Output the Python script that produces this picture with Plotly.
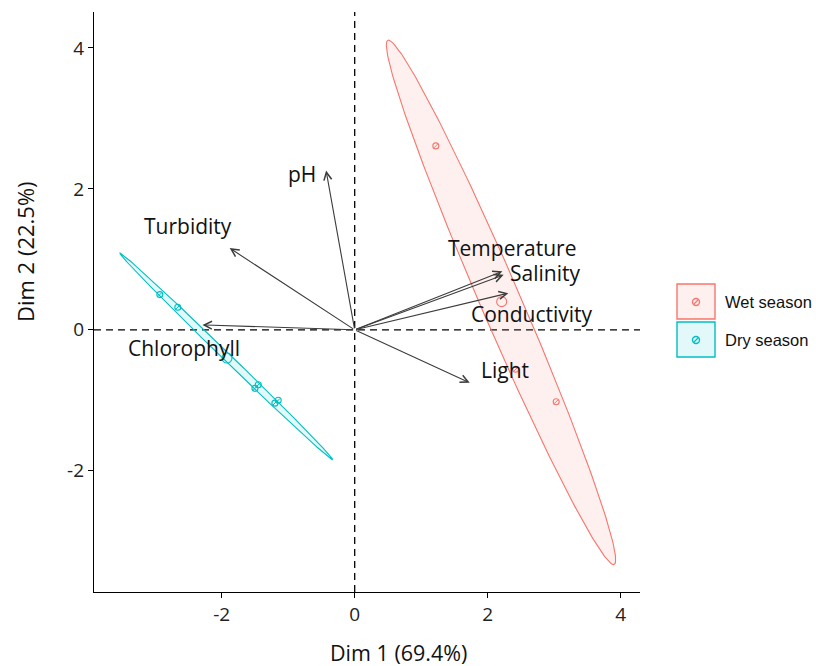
import numpy as np
import plotly.graph_objects as go

# ---- PCA biplot data -------------------------------------------------------
# Variable loadings (arrow tips) on Dim 1 / Dim 2
variables = ["pH", "Turbidity", "Chlorophyll", "Temperature", "Salinity", "Conductivity", "Light"]
var_dim1 = [-0.43, -1.88, -2.29, 2.22, 2.24, 2.31, 1.73]
var_dim2 = [2.26, 1.16, 0.07, 0.83, 0.78, 0.52, -0.75]
# where each variable name is written
label_dim1 = [-0.79, -2.50, -2.56, 2.36, 2.86, 2.66, 2.26]
label_dim2 = [2.21, 1.48, -0.26, 1.16, 0.81, 0.23, -0.57]

# Individual samples
wet_dim1 = [1.22, 2.42, 3.03]
wet_dim2 = [2.61, -0.56, -1.02]
dry_dim1 = [-2.93, -2.66, -1.50, -1.45, -1.20, -1.15]
dry_dim2 = [0.50, 0.32, -0.83, -0.78, -1.04, -1.00]

# Group mean points
wet_mean = [2.21, 0.40]
dry_mean = [-1.92, -0.40]

# Concentration ellipses: centre, half-axes and rotation (degrees)
wet_ellipse = [2.20, 0.39, 4.09, 0.30, -65.4]
dry_ellipse = [-1.93, -0.378, 2.17, 0.055, -42.5]

groups = ["Wet season", "Dry season"]
tick_values = [-2, 0, 2, 4]
tick_labels = ["-2", "0", "2", "4"]

WET = "#F8766D"
DRY = "#00BFC4"

X_RANGE = [-3.92, 4.29]
Y_RANGE = [-3.72, 4.51]
ML, MR, MT, MB = 94, 176, 12, 74
W, H = 816, 666
PW, PH = W - ML - MR, H - MT - MB


def ellipse_xy(params, n=240):
    cx, cy, a, b, ang = params
    t = np.linspace(0, 2 * np.pi, n)
    th = np.deg2rad(ang)
    x = cx + a * np.cos(t) * np.cos(th) - b * np.sin(t) * np.sin(th)
    y = cy + a * np.cos(t) * np.sin(th) + b * np.sin(t) * np.cos(th)
    return x, y


def px2paper(px, py):
    return (px - ML) / PW, (H - MB - py) / PH


fig = go.Figure()

for params, col, fill in [(wet_ellipse, WET, "rgba(248,118,109,0.11)"),
                          (dry_ellipse, DRY, "rgba(0,191,196,0.11)")]:
    ex, ey = ellipse_xy(params)
    fig.add_trace(go.Scatter(x=ex, y=ey, mode="lines", fill="toself",
                             fillcolor=fill, line=dict(color=col, width=1.1),
                             hoverinfo="skip", showlegend=False))

for xs, ys, col in [(wet_dim1, wet_dim2, WET), (dry_dim1, dry_dim2, DRY)]:
    fig.add_trace(go.Scatter(x=xs, y=ys, mode="markers", showlegend=False,
                             marker=dict(symbol="circle-open", size=6, color=col,
                                         line=dict(width=1.1, color=col))))
    fig.add_trace(go.Scatter(x=xs, y=ys, mode="markers", showlegend=False,
                             marker=dict(symbol="line-ne", size=4, color=col,
                                         line=dict(width=1, color=col))))

for m, col in [(wet_mean, WET), (dry_mean, DRY)]:
    fig.add_trace(go.Scatter(x=[m[0]], y=[m[1]], mode="markers", showlegend=False,
                             marker=dict(symbol="circle-open", size=10, color=col,
                                         line=dict(width=1.1, color=col))))

annotations = []
for name, vx, vy, lx, ly in zip(variables, var_dim1, var_dim2, label_dim1, label_dim2):
    annotations.append(dict(x=vx, y=vy, ax=0, ay=0, xref="x", yref="y",
                            axref="x", ayref="y", text="", showarrow=True,
                            arrowhead=5, arrowsize=1.4, arrowwidth=1.1,
                            arrowcolor="#3c3c3c", standoff=0))
    annotations.append(dict(x=lx, y=ly, xref="x", yref="y", text=name,
                            showarrow=False, xanchor="center", yanchor="middle",
                            font=dict(family="Open Sans", size=21, color="#111")))

# axis titles
tx, ty = px2paper(398, 652)
annotations.append(dict(x=tx, y=ty, xref="paper", yref="paper", text="Dim 1 (69.4%)",
                        showarrow=False, xanchor="center", yanchor="middle",
                        font=dict(family="Open Sans", size=21.5, color="#111")))
tx, ty = px2paper(25, 252)
annotations.append(dict(x=tx, y=ty, xref="paper", yref="paper", text="Dim 2 (22.5%)",
                        showarrow=False, xanchor="center", yanchor="middle", textangle=-90,
                        font=dict(family="Open Sans", size=22, color="#111")))

shapes = [
    dict(type="line", xref="x", yref="paper", x0=0, x1=0, y0=0, y1=1,
         line=dict(color="black", width=1.3, dash="7px,5px"), layer="below"),
    dict(type="line", xref="paper", yref="y", x0=0, x1=1, y0=0, y1=0,
         line=dict(color="black", width=1.3, dash="7px,5px"), layer="below"),
]

# legend keys
for i, (g, col, fill) in enumerate([(groups[0], WET, "rgba(248,118,109,0.11)"),
                                    (groups[1], DRY, "rgba(0,191,196,0.11)")]):
    top = 284 + i * 38
    x0, y1 = px2paper(677, top)
    x1, y0 = px2paper(715, top + 35)
    shapes.append(dict(type="rect", xref="paper", yref="paper", x0=x0, x1=x1, y0=y0, y1=y1,
                       line=dict(color=col, width=1.4), fillcolor=fill))
    cx, cy = px2paper(696, top + 18)
    shapes.append(dict(type="circle", xref="paper", yref="paper", xsizemode="pixel",
                       ysizemode="pixel", xanchor=cx, yanchor=cy, x0=-3.5, x1=3.5,
                       y0=-3.5, y1=3.5, line=dict(color=col, width=1.4)))
    shapes.append(dict(type="line", xref="paper", yref="paper", xsizemode="pixel",
                       ysizemode="pixel", xanchor=cx, yanchor=cy, x0=-2.5, x1=2.5,
                       y0=-2.5, y1=2.5, line=dict(color=col, width=1.2)))
    lx, ly = px2paper(723, top + 18)
    annotations.append(dict(x=lx, y=ly, xref="paper", yref="paper", text=g,
                            showarrow=False, xanchor="left", yanchor="middle",
                            font=dict(family="Liberation Sans", size=16.5, color="#111")))

axis_common = dict(showline=True, linecolor="black", linewidth=1.3, ticks="outside",
                   ticklen=5, tickwidth=1.2, tickcolor="black", showgrid=False,
                   zeroline=False, tickvals=tick_values, ticktext=tick_labels,
                   tickfont=dict(family="Open Sans", size=19, color="#222"))

fig.update_layout(
    width=W, height=H, margin=dict(l=ML, r=MR, t=MT, b=MB),
    paper_bgcolor="white", plot_bgcolor="white", showlegend=False,
    xaxis=dict(range=X_RANGE, **axis_common),
    yaxis=dict(range=Y_RANGE, **axis_common),
    annotations=annotations, shapes=shapes,
)

fig.write_html("out.html")
